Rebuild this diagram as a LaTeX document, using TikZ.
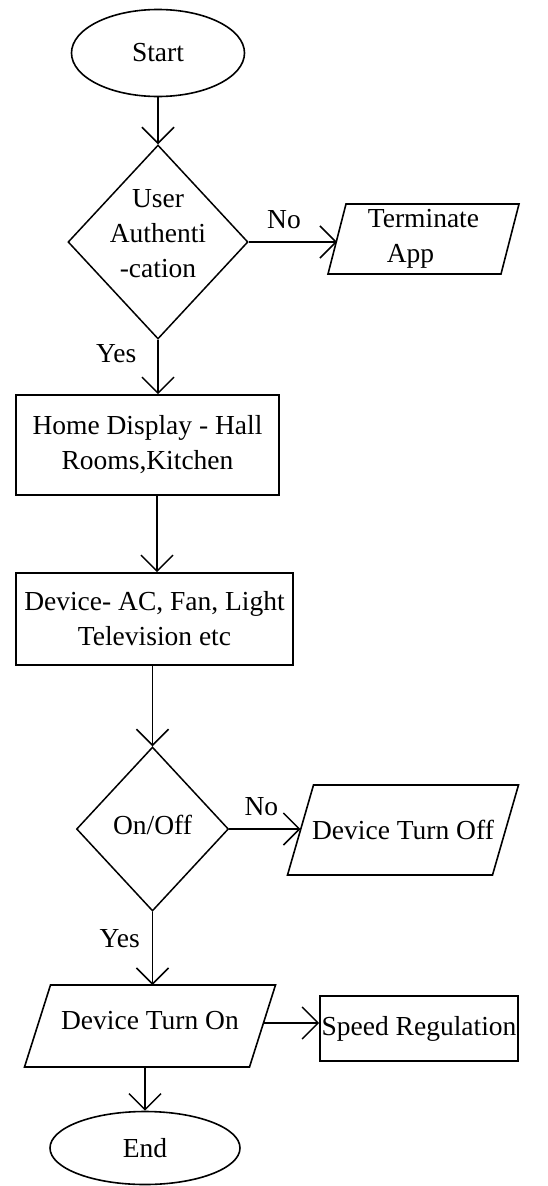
\documentclass[tikz,border=0pt]{standalone}
\usepackage{fontspec}
\setmainfont{Liberation Serif}
\usetikzlibrary{shapes.geometric,arrows.meta,calc}

\begin{document}
\begin{tikzpicture}[x=1pt,y=-1pt,
  txt/.style={font=\fontsize{27.5}{35}\selectfont, align=center},
  terminal/.style={txt, ellipse, draw, line width=1.6pt, inner sep=0pt},
  procbox/.style={txt, rectangle, draw, line width=1.6pt, inner sep=0pt},
  decision/.style={diamond, draw, line width=1.5pt, inner sep=0pt},
  dataio/.style={txt, rectangle, inner sep=0pt, outer sep=0pt},
  flow/.style={line width=1.6pt, -{Straight Barb[length=16pt,width=32pt,line width=1.5pt]}},
  answer/.style={txt, inner sep=0pt}
]
\useasboundingbox (0,0) rectangle (548,1186);

% terminals
\node[terminal, minimum width=173pt, minimum height=87pt] (start) at (158,53) {Start};
\node[terminal, minimum width=190pt, minimum height=73pt] (end) at (145,1148) {End};

% decisions
\node[decision, minimum width=180pt, minimum height=194pt] (auth) at (158,242) {};
\node[txt] (authtxt) at (158,234) {User\\Authenti\\-cation};
\node[decision, minimum width=152pt, minimum height=164pt] (onoff) at (152.5,829) {};
\node[txt] (onofftxt) at (152.5,825) {On/Off};

% process boxes
\node[procbox, minimum width=263pt, minimum height=100pt] (home) at (147.5,445) {Home Display - Hall\\Rooms,Kitchen};
\node[procbox, minimum width=277pt, minimum height=92pt] (device) at (154.5,619) {Device- AC, Fan, Light\\Television etc};
\node[procbox, minimum width=198pt, minimum height=65pt] (speed) at (419,1028.5) {Speed Regulation};

% input/output parallelograms (text node, outline pushed out by \d below the text centre)
\node[dataio, minimum width=173pt, minimum height=70pt] (term) at (423.5,239) {Terminate\\App\hspace*{26pt}};
\node[dataio, minimum width=205pt, minimum height=90pt] (off) at (403,830) {Device Turn Off};
\node[dataio, minimum width=225pt, minimum height=82pt] (on) at (150,1021) {Device Turn On};
\foreach \n/\s/\d in {term/9/0, off/13/0, on/13/5}
  \draw[line width=1.6pt, line join=miter]
    ([xshift=\s pt, yshift=-\d pt]\n.north west) -- ([xshift=\s pt, yshift=-\d pt]\n.north east)
    -- ([xshift=-\s pt, yshift=-\d pt]\n.south east) -- ([xshift=-\s pt, yshift=-\d pt]\n.south west) -- cycle;

% connectors
\draw[flow] (start.south) -- (auth.north);
\draw[flow] (auth.east) -- (auth.east -| term.west)
  node[answer, pos=0.4, above=12pt] {No};
\draw[flow] (auth.south) -- (auth.south |- home.north)
  node[answer, pos=0.25, left=21pt] {Yes};
\draw[flow] ([xshift=9.5pt]home.south) -- ([xshift=9.5pt]home.south |- device.north);
\draw[flow] (onoff.north |- device.south) -- (onoff.north);
\draw[flow] (onoff.south) -- ([yshift=-5pt]onoff.south |- on.north)
  node[answer, pos=0.36, left=12pt] {Yes};
\draw[flow] (onoff.east) -- (onoff.east -| off.west)
  node[answer, pos=0.45, above=12pt] {No};
\draw[flow] ([yshift=-2pt]on.east) -- ([yshift=-2pt]on.east -| speed.west);
\draw[flow] ([yshift=-5pt]end.north |- on.south) -- (end.north);
\end{tikzpicture}
\end{document}
